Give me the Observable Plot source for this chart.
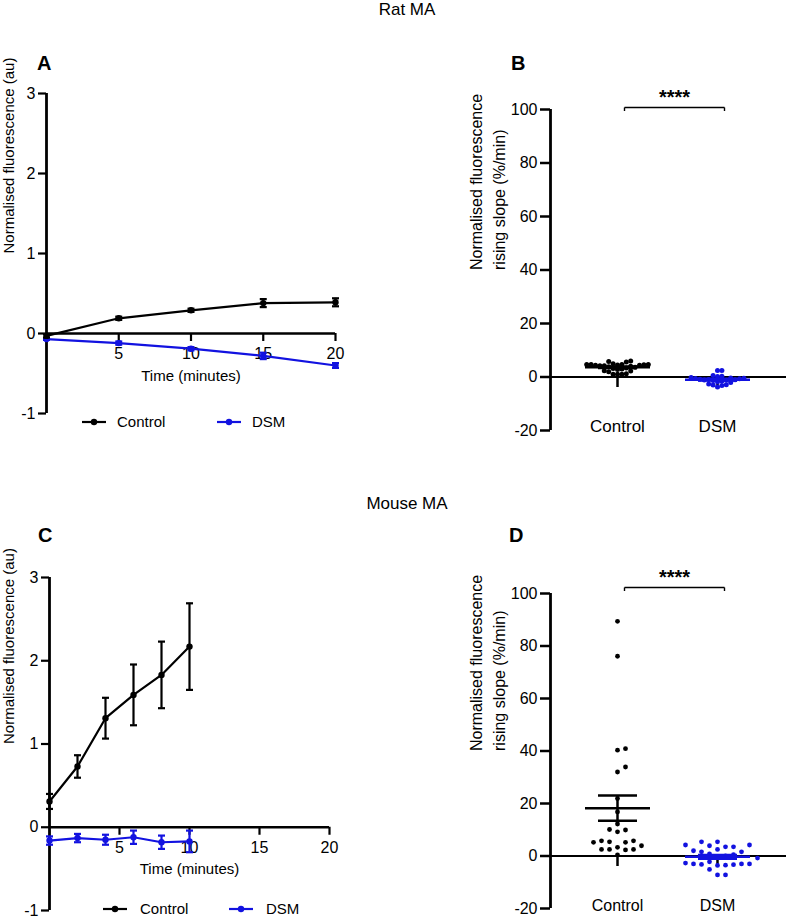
<!DOCTYPE html>
<html><head><meta charset="utf-8">
<script src="https://cdn.jsdelivr.net/npm/d3@7"></script>
<script src="https://cdn.jsdelivr.net/npm/@observablehq/plot@0.6"></script>
<style>
html,body{margin:0;padding:0;background:#fff;overflow:hidden}
#fig{position:relative;width:786px;height:918px;font-family:"Liberation Sans",Arial,sans-serif;color:#000;overflow:hidden}
.abs{position:absolute;white-space:nowrap;line-height:18px}
.title{font-size:17px;width:786px;text-align:center}
.letter{font-size:20px;font-weight:bold;line-height:22px}
.leg{font-size:15px}
</style></head><body><div id="fig"></div>
<script>
// ---------- data ----------
const groups = ["Control", "DSM"];
const groupColors = ["#000000", "#1212e0"];

// Rat MA time course (A)
const ratTime = [0, 5, 10, 15, 20];
const ratControlMean = [-0.03, 0.19, 0.29, 0.38, 0.39];
const ratControlSEM = [0.02, 0.02, 0.02, 0.05, 0.05];
const ratDSMMean = [-0.07, -0.12, -0.19, -0.28, -0.40];
const ratDSMSEM = [0.01, 0.02, 0.02, 0.04, 0.03];

// Mouse MA time course (C)
const mouseTime = [0, 2, 4, 6, 8, 10];
const mouseControlMean = [0.31, 0.73, 1.31, 1.59, 1.83, 2.17];
const mouseControlSEM = [0.09, 0.135, 0.245, 0.365, 0.40, 0.52];
const mouseDSMMean = [-0.16, -0.13, -0.15, -0.12, -0.18, -0.17];
const mouseDSMSEM = [0.05, 0.05, 0.06, 0.08, 0.08, 0.13];

// Rising slopes (B: rat, D: mouse), %/min
const ratSlopeControl = [4.0, 3.8, 3.6, 4.4, 4.7, 4.7, 5.0, 5.8, 6.0, 4.7, 4.5, 4.4, 4.2, 4.7, 5.6, 4.2, 4.6, 2.2, 1.0, 2.0, 1.0, 1.0, 1.2, 2.3, 3.0, 3.4, 2.8, 3.2];
const ratSlopeDSM = [2.4, 2.4, 0.6, 0.3, -0.2, -0.5, -0.8, -1.0, -1.2, -0.6, -0.9, -1.3, -0.4, 0.2, -0.7, -1.1, -2.6, -3.7, -3.0, -2.9, -3.2, -2.1, -1.8, -1.5];
const mouseSlopeControl = [89.4, 76.1, 40.3, 40.9, 33.9, 32.0, 21.9, 16.8, 12.2, 9.9, 9.2, 10.1, 5.4, 3.9, 2.5, 5.8, 2.5, 5.8, 2.5, 5.2, 3.3, 5.2, 2.3, 0.4];
const mouseSlopeDSM = [4.2, 4.2, 5.4, 5.4, 3.5, 3.5, 2.5, 3.9, 2.0, 1.6, 1.6, 0.5, 0.0, -0.5, -2.2, -3.3, -3.2, -3.6, -3.0, -3.0, -3.5, -3.0, -2.7, -5.1, -7.2, -7.2, 0.8, -0.8];

// axis ticks / labels
const timeXTicks = [5, 10, 15, 20];
const timeYTicks = [-1, 0, 1, 2, 3];
const slopeYTicks = [-20, 0, 20, 40, 60, 80, 100];
const significance = "****";
const timeXLabel = "Time (minutes)";
const timeYLabel = "Normalised fluorescence (au)";
const slopeYLabel = "Normalised fluorescence\nrising slope (%/min)";

// ---------- helpers ----------
const FONT = '"Liberation Sans", Arial, sans-serif';
const fmt = d => String(d);
const fig = document.getElementById("fig");
function place(el, left, top) {
  el.style.position = "absolute"; el.style.left = left + "px"; el.style.top = top + "px";
  fig.appendChild(el);
}
function addText(cls, text, left, top) {
  const d = document.createElement("div");
  d.className = "abs " + cls; d.textContent = text;
  d.style.left = left + "px";
  d.style.top = top + "px";
  fig.appendChild(d);
}
const hbar = {draw(ctx, size) { const r = Math.sqrt(size / Math.PI); ctx.moveTo(-r, 0); ctx.lineTo(r, 0); }};
const vdown = {draw(ctx, size) { const r = Math.sqrt(size / Math.PI); ctx.moveTo(0, 0); ctx.lineTo(0, r); }};
const colorScale = {domain: groups, range: groupColors};

function timePanel({series, time, left, top, width, height, mL, mR, mT, mB, yLabelDx}) {
  const yDom = [-1, 3], xDom = [0, 20];
  const frameH = height - mT - mB;
  const zeroOff = frameH * (0 - yDom[0]) / (yDom[1] - yDom[0]);
  const rows = [];
  series.forEach(([g, mean, sem]) => time.forEach((t, i) => rows.push({g, t, v: mean[i], lo: mean[i] - sem[i], hi: mean[i] + sem[i]})));
  const marks = [
    Plot.ruleX([xDom[0]], {stroke: "#000", strokeWidth: 2.8}),
    Plot.ruleY([0], {stroke: "#000", strokeWidth: 2.5}),
    Plot.axisY({ticks: timeYTicks, tickFormat: fmt, tickSize: 8, tickPadding: 3, strokeWidth: 2.2, fontSize: 16, label: null}),
    Plot.axisX({ticks: timeXTicks, tickFormat: fmt, tickSize: 8, tickPadding: 6, strokeWidth: 2.2, fontSize: 16, label: null, dy: -zeroOff}),
    Plot.text([timeXLabel], {text: d => d, frameAnchor: "bottom", dy: -zeroOff + 47, fontSize: 15}),
    Plot.text([timeYLabel], {text: d => d, frameAnchor: "left", rotate: -90, dx: yLabelDx, fontSize: 15})
  ];
  for (const g of ["DSM", "Control"]) {
    const d = rows.filter(r => r.g === g);
    marks.push(
      Plot.ruleX(d, {x: "t", y1: "lo", y2: "hi", stroke: "g", strokeWidth: 2.2}),
      Plot.dot(d, {x: "t", y: "lo", symbol: hbar, r: 3.5, stroke: "g", strokeWidth: 2.2, fill: "none"}),
      Plot.dot(d, {x: "t", y: "hi", symbol: hbar, r: 3.5, stroke: "g", strokeWidth: 2.2, fill: "none"}),
      Plot.line(d, {x: "t", y: "v", stroke: "g", strokeWidth: 2.2}),
      Plot.dot(d, {x: "t", y: "v", fill: "g", r: 3.2})
    );
  }
  const svg = Plot.plot({
    width, height, marginLeft: mL, marginRight: mR, marginTop: mT, marginBottom: mB,
    x: {domain: xDom}, y: {domain: yDom}, color: colorScale,
    style: {fontFamily: FONT, fontSize: "15px", color: "#000", background: "transparent", overflow: "visible"},
    marks
  });
  place(svg, left, top);
}

function swarmOffsets(values, pxPerY, dist, step) {
  const order = d3.range(values.length).sort((a, b) => values[a] - values[b]);
  const placed = [], off = new Array(values.length);
  for (const i of order) {
    const y = values[i] * pxPerY;
    for (let k = 0; ; k++) {
      const c = k === 0 ? 0 : (k % 2 ? 1 : -1) * Math.ceil(k / 2) * step;
      if (placed.every(p => (p.x - c) ** 2 + (p.y - y) ** 2 >= dist * dist)) { off[i] = c; placed.push({x: c, y}); break; }
    }
  }
  return off;
}

function slopePanel({data, left, top, width, height, mL, mT, mB, dotR, dist, step, catFont, catDy, brDy, starDy}) {
  const yDom = [-20, 100], xDom = [0.33, 2.69];
  const frameH = height - mT - mB, frameW = width - mL;
  const pxY = frameH / (yDom[1] - yDom[0]), pxX = frameW / (xDom[1] - xDom[0]);
  const rows = [], stats = [];
  data.forEach(([g, vals], gi) => {
    const off = swarmOffsets(vals, pxY, dist, step);
    vals.forEach((v, i) => rows.push({g, i: gi + 1, v, x: gi + 1 + off[i] / pxX}));
    const m = d3.mean(vals), s = d3.deviation(vals) / Math.sqrt(vals.length);
    stats.push({g, i: gi + 1, mean: m, lo: m - s, hi: m + s});
  });
  const cats = groups.map((g, i) => i + 1);
  const marks = [
    Plot.ruleX([xDom[0]], {stroke: "#000", strokeWidth: 2.8}),
    Plot.ruleY([0], {stroke: "#000", strokeWidth: 2.2}),
    Plot.axisY({ticks: slopeYTicks, tickFormat: fmt, tickSize: 10, tickPadding: 3, strokeWidth: 2.5, fontSize: 16, label: null}),
    Plot.axisX({ticks: cats, tickFormat: i => groups[i - 1], tickSize: 0, tickPadding: 0, dy: catDy, fontSize: catFont, label: null}),
    Plot.dot(cats, {x: d => d, y: () => 0, symbol: vdown, r: 10, stroke: "#000", strokeWidth: 2.5, fill: "none"}),
    Plot.text([slopeYLabel], {text: d => d, frameAnchor: "left", rotate: -90, dx: -64, fontSize: 16, lineHeight: 1.4}),
    Plot.dot(rows, {x: "x", y: "v", fill: "g", r: dotR}),
    Plot.ruleX(stats, {x: "i", y1: "lo", y2: "hi", stroke: "g", strokeWidth: 2.5}),
    Plot.dot(stats, {x: "i", y: "lo", symbol: hbar, r: 19.5, stroke: "g", strokeWidth: 2.5, fill: "none"}),
    Plot.dot(stats, {x: "i", y: "hi", symbol: hbar, r: 19.5, stroke: "g", strokeWidth: 2.5, fill: "none"}),
    Plot.dot(stats, {x: "i", y: "mean", symbol: hbar, r: 32.5, stroke: "g", strokeWidth: 2.5, fill: "none"}),
    // significance bracket between the two groups
    Plot.link([cats], {x1: d => d[0], x2: d => d[1], y1: () => yDom[1], y2: () => yDom[1], dx: 7, dy: brDy, stroke: "#000", strokeWidth: 1.4}),
    Plot.dot(cats, {x: d => d, y: () => yDom[1], symbol: vdown, r: 3.5, dx: 7, dy: brDy, stroke: "#000", strokeWidth: 1.4, fill: "none"}),
    Plot.text([significance], {text: d => d, x: () => d3.mean(cats), y: () => yDom[1], dx: 7, dy: starDy, fontSize: 20, fontWeight: "bold"})
  ];
  const svg = Plot.plot({
    width, height, marginLeft: mL, marginRight: 0, marginTop: mT, marginBottom: mB,
    x: {domain: xDom}, y: {domain: yDom}, color: colorScale,
    style: {fontFamily: FONT, fontSize: "15px", color: "#000", background: "transparent", overflow: "visible"},
    marks
  });
  place(svg, left, top);
}

function legend(items, top) {
  for (const [g, lineLeft, textLeft] of items) {
    const c = groupColors[groups.indexOf(g)];
    const ns = "http://www.w3.org/2000/svg";
    const s = document.createElementNS(ns, "svg");
    s.setAttribute("width", 24); s.setAttribute("height", 10);
    s.innerHTML = `<line x1="0" y1="5" x2="24" y2="5" stroke="${c}" stroke-width="2.2"/><circle cx="12" cy="5" r="3.2" fill="${c}"/>`;
    place(s, lineLeft, top - 5);
    addText("leg", g, textLeft, top - 9);
  }
}

// ---------- layout ----------
addText("title", "Rat MA", 14, 1);
addText("title", "Mouse MA", 14, 495);
addText("letter", "A", 37, 52);
addText("letter", "B", 511, 52);
addText("letter", "C", 38, 524);
addText("letter", "D", 509, 524);

timePanel({series: [["Control", ratControlMean, ratControlSEM], ["DSM", ratDSMMean, ratDSMSEM]], time: ratTime,
  left: 0, top: 80, width: 380, height: 360, mL: 46, mR: 45, mT: 13, mB: 27, yLabelDx: -37.5});
timePanel({series: [["Control", mouseControlMean, mouseControlSEM], ["DSM", mouseDSMMean, mouseDSMSEM]], time: mouseTime,
  left: 0, top: 560, width: 380, height: 358, mL: 49, mR: 51, mT: 17, mB: 8, yLabelDx: -40});

slopePanel({data: [["Control", ratSlopeControl], ["DSM", ratSlopeDSM]], left: 380, top: 80, width: 406, height: 380,
  mL: 170, mT: 29, mB: 30, dotR: 2.5, dist: 4.4, step: 4.4, catFont: 17, catDy: -11, brDy: -2, starDy: -12});
slopePanel({data: [["Control", mouseSlopeControl], ["DSM", mouseSlopeDSM]], left: 380, top: 560, width: 406, height: 358,
  mL: 170, mT: 33, mB: 10, dotR: 2.4, dist: 7.6, step: 8, catFont: 16, catDy: -9, brDy: -6, starDy: -16});

legend([["Control", 82, 117], ["DSM", 217, 252]], 422);
legend([["Control", 103, 140], ["DSM", 229, 266]], 909);
</script></body></html>
